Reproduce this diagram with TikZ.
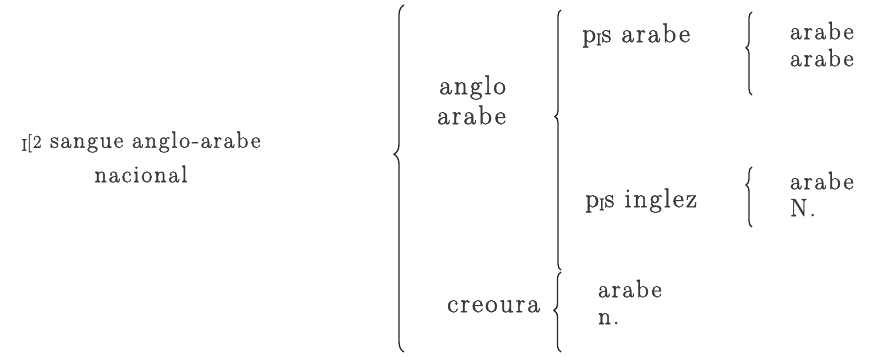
\documentclass[tikz,border=0pt]{standalone}
\usepackage{fontspec}
\setmainfont{Latin Modern Roman}[LetterSpace=8, FakeBold=1.6]
\usetikzlibrary{decorations.pathreplacing}

% small lowered capital used in "p.s" and in the fraction mark
\newcommand{\lowcap}{\raisebox{-3pt}{\fontsize{17}{17}\selectfont I}}

\begin{document}
\begin{tikzpicture}[x=1pt,y=-1pt,
  lbl/.style={inner sep=0pt, font=\fontsize{27}{30}\selectfont, text=black!78},
  leaf/.style={lbl, anchor=mid west, font=\fontsize{25}{28}\selectfont},
  curly/.style={decorate, decoration={brace, amplitude=#1}, line width=1.3pt, draw=black!85},
  curly/.default=8pt,
]
\useasboundingbox (0,0) rectangle (874,356);

% root label
\node[lbl, font=\fontsize{23.5}{27}\selectfont] (title) at (141,142)
  {\lowcap{\fontsize{18}{20}\selectfont[2} sangue\ anglo-arabe};
\node[lbl, font=\fontsize{24}{27}\selectfont] (nac) at (141,174) {nacional};

% main brace
\coordinate (mainTop) at (404,5);
\coordinate (mainBot) at (404,352);
\draw[curly=10pt, decoration={aspect=0.57}] (mainBot) -- (mainTop);

% anglo-arabe branch
\node[lbl, anchor=mid east] (anglo) at (506,92) {anglo};
\node[lbl, anchor=mid east] (angloAr) at (506,122) {arabe};
\coordinate (aaTop) at (561,10);
\coordinate (aaBot) at (561,270);
\draw[curly=6pt, decoration={aspect=0.59}] (aaBot) -- (aaTop);

% p.s arabe
\node[lbl, anchor=mid west] (psAr) at (582,40) {p\lowcap s arabe};
\coordinate (paTop) at (752,12);
\coordinate (paBot) at (752,95);
\draw[curly=6pt, decoration={aspect=0.57}] (paBot) -- (paTop);
\node[leaf] (pa1) at (790,37) {arabe};
\node[leaf] (pa2) at (790,64) {arabe};

% p.s inglez
\node[lbl, anchor=mid west] (psIn) at (585,205) {p\lowcap s inglez};
\coordinate (piTop) at (752,167);
\coordinate (piBot) at (752,227);
\draw[curly=6pt, decoration={aspect=0.7}] (piBot) -- (piTop);
\node[leaf] (pi1) at (790,187) {arabe};
\node[leaf] (pi2) at (790,214) {N.};

% creoura branch
\node[lbl, anchor=mid east] (creo) at (540,310) {creoura};
\coordinate (crTop) at (561,272);
\coordinate (crBot) at (561,352);
\draw[curly=7pt, decoration={aspect=0.52}] (crBot) -- (crTop);
\node[leaf] (cr1) at (598,295) {arabe};
\node[leaf] (cr2) at (598,322) {n.};
\end{tikzpicture}
\end{document}
